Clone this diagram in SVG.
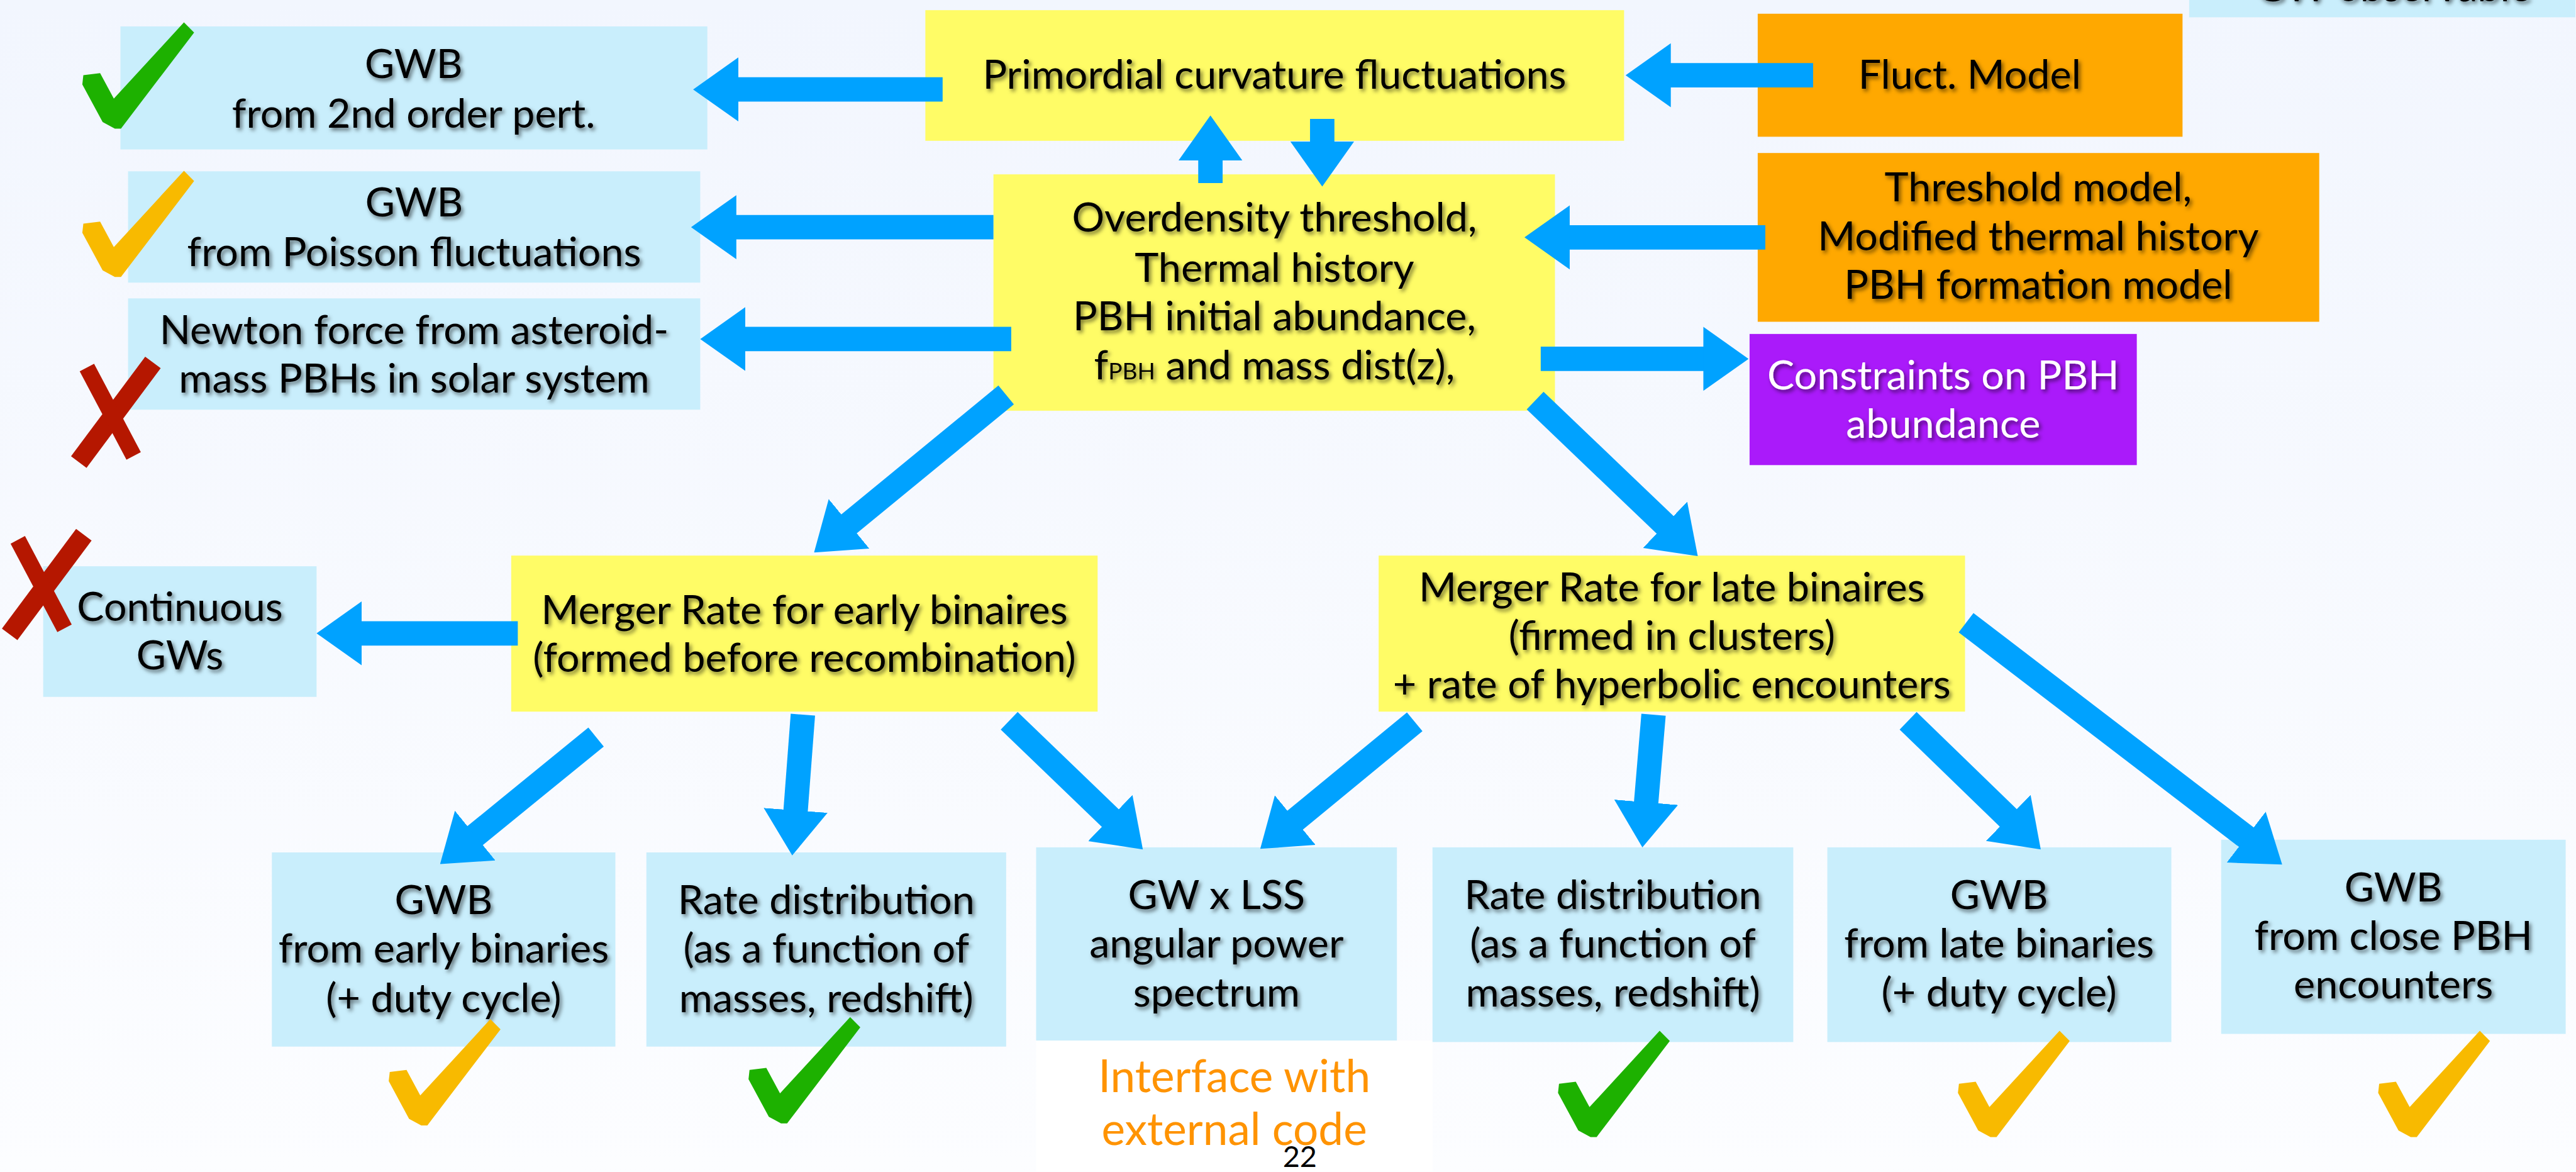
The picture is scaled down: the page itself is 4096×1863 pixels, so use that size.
<svg xmlns="http://www.w3.org/2000/svg" width="4096" height="1863" viewBox="0 0 4096 1863">
<defs>
<linearGradient id="bg" x1="0" y1="0" x2="0" y2="1">
<stop offset="0" stop-color="#f2f6fe"/>
<stop offset="1" stop-color="#fcfdff"/>
</linearGradient>
<filter id="sh" x="-10%" y="-30%" width="120%" height="170%">
<feDropShadow dx="4" dy="5" stdDeviation="4" flood-color="#000" flood-opacity="0.55"/>
</filter>
<marker id="ah" markerUnits="userSpaceOnUse" markerWidth="89" markerHeight="128" viewBox="0 -64 89 128" refX="44" refY="0" orient="auto">
<path d="M0,-63 L89,0 L0,63 Z" fill="#00a2ff"/>
</marker>
<path id="check" d="M4,104 L37,100 L64,150 L202,0 L222,20 L78,209 L66,209 L42,196 L2,122 Z"/>
<g id="cross">
<line x1="160" y1="8" x2="14" y2="204" stroke-width="38"/>
<line x1="30" y1="18" x2="122" y2="192" stroke-width="32"/>
</g>
<style>
.lb{fill:#c9eefc}
.yl{fill:#fffc66}
.or{fill:#ffa800}
.pu{fill:#aa1afa}
.t{font-family:Lato,"Liberation Sans",sans-serif;font-size:80px;text-anchor:middle;fill:#000;filter:url(#sh)}
.w{fill:#fff}
.arr{stroke:#00a2ff;stroke-width:48;fill:none;marker-end:url(#ah)}
.gr{fill:#1db100}
.ye{fill:#f8ba00}
.rd{stroke:#b51700;fill:none}
.ora{font-family:Lato,"Liberation Sans",sans-serif;font-size:88px;text-anchor:middle;fill:#ff9300}
</style>
</defs>
<rect x="0" y="0" width="4096" height="1863" fill="url(#bg)"/>
<g transform="scale(0.808)">
<rect x="2039" y="2047" width="780" height="258" fill="#ffffff"/>

<g id="gw-observable">
<rect class="lb" x="4308" y="0" width="760" height="34"/>
<text class="t" x="4710" y="2">GW observable</text>
</g>

<g id="gwb-2nd-order">
<rect class="lb" x="237" y="52" width="1155" height="242"/>
<text class="t" x="814" y="154">GWB</text>
<text class="t" x="814" y="251">from 2nd order pert.</text>
</g>
<g id="gwb-poisson">
<rect class="lb" x="252" y="337" width="1126" height="219"/>
<text class="t" x="815" y="426">GWB</text>
<text class="t" x="815" y="523">from Poisson fluctuations</text>
</g>
<g id="newton-force">
<rect class="lb" x="252" y="587" width="1126" height="219"/>
<text class="t" x="815" y="677">Newton force from asteroid-</text>
<text class="t" x="815" y="772">mass PBHs in solar system</text>
</g>
<g id="primordial">
<rect class="yl" x="1821" y="20" width="1375" height="257"/>
<text class="t" x="2508" y="175">Primordial curvature fluctuations</text>
</g>
<g id="overdensity">
<rect class="yl" x="1955" y="343" width="1105" height="465"/>
<text class="t" x="2508" y="456">Overdensity threshold,</text>
<text class="t" x="2508" y="554">Thermal history</text>
<text class="t" x="2508" y="650">PBH initial abundance,</text>
<text class="t" x="2508" y="746">f<tspan font-size="46">PBH</tspan> and mass dist(z),</text>
</g>
<g id="fluct-model">
<rect class="or" x="3459" y="27" width="836" height="242"/>
<text class="t" x="3876" y="175">Fluct. Model</text>
</g>
<g id="threshold-model">
<rect class="or" x="3459" y="301" width="1105" height="332"/>
<text class="t" x="4011" y="396">Threshold model,</text>
<text class="t" x="4011" y="492">Modified thermal history</text>
<text class="t" x="4011" y="588">PBH formation model</text>
</g>
<g id="constraints">
<rect class="pu" x="3443" y="657" width="762" height="258"/>
<text class="t w" x="3824" y="766">Constraints on PBH</text>
<text class="t w" x="3824" y="861">abundance</text>
</g>
<g id="continuous">
<rect class="lb" x="85" y="1114" width="538" height="257"/>
<text class="t" x="354" y="1222">Continuous</text>
<text class="t" x="354" y="1317">GWs</text>
</g>
<g id="early-merger">
<rect class="yl" x="1006" y="1093" width="1154" height="307"/>
<text class="t" x="1583" y="1228">Merger Rate for early binaires</text>
<text class="t" x="1583" y="1322">(formed before recombination)</text>
</g>
<g id="late-merger">
<rect class="yl" x="2713" y="1093" width="1154" height="307"/>
<text class="t" x="3290" y="1183">Merger Rate for late binaires</text>
<text class="t" x="3290" y="1279">(firmed in clusters)</text>
<text class="t" x="3290" y="1374">+ rate of hyperbolic encounters</text>
</g>
<g id="gwb-early">
<rect class="lb" x="535" y="1677" width="676" height="382"/>
<text class="t" x="873" y="1798">GWB</text>
<text class="t" x="873" y="1894">from early binaries</text>
<text class="t" x="873" y="1991">(+ duty cycle)</text>
</g>
<g id="rate-early">
<rect class="lb" x="1272" y="1677" width="708" height="382"/>
<text class="t" x="1626" y="1798">Rate distribution</text>
<text class="t" x="1626" y="1894">(as a function of</text>
<text class="t" x="1626" y="1991">masses, redshift)</text>
</g>
<g id="gw-lss">
<rect class="lb" x="2039" y="1667" width="710" height="380"/>
<text class="t" x="2394" y="1788">GW x LSS</text>
<text class="t" x="2394" y="1884">angular power</text>
<text class="t" x="2394" y="1980">spectrum</text>
</g>
<g id="rate-late">
<rect class="lb" x="2819" y="1667" width="710" height="383"/>
<text class="t" x="3174" y="1788">Rate distribution</text>
<text class="t" x="3174" y="1884">(as a function of</text>
<text class="t" x="3174" y="1980">masses, redshift)</text>
</g>
<g id="gwb-late">
<rect class="lb" x="3596" y="1667" width="677" height="383"/>
<text class="t" x="3934" y="1788">GWB</text>
<text class="t" x="3934" y="1884">from late binaries</text>
<text class="t" x="3934" y="1980">(+ duty cycle)</text>
</g>
<g id="gwb-close">
<rect class="lb" x="4371" y="1652" width="678" height="382"/>
<text class="t" x="4710" y="1773">GWB</text>
<text class="t" x="4710" y="1869">from close PBH</text>
<text class="t" x="4710" y="1964">encounters</text>
</g>
<g id="interface-note">
<text class="ora" x="2429" y="2148">Interface with</text>
<text class="ora" x="2429" y="2252">external code</text>
</g>
<g id="page-number">
<text x="2558" y="2296" font-family="Lato,'Liberation Sans',sans-serif" font-size="58" text-anchor="middle" fill="#000">22</text>
</g>

<g id="connectors">
<line class="arr" x1="1855" y1="176" x2="1409" y2="176"/>
<line class="arr" x1="1955" y1="447" x2="1405" y2="447"/>
<line class="arr" x1="1990" y1="667" x2="1423" y2="667"/>
<line class="arr" x1="3568" y1="148" x2="3244" y2="148"/>
<line class="arr" x1="3474" y1="467" x2="3045" y2="467"/>
<line class="arr" x1="3032" y1="706" x2="3396" y2="706"/>
<line class="arr" x1="2382" y1="360" x2="2382" y2="272"/>
<line class="arr" x1="2602" y1="234" x2="2602" y2="322"/>
<line class="arr" x1="1980" y1="777" x2="1636.8" y2="1058.5"/>
<line class="arr" x1="3021" y1="788" x2="3308.5" y2="1062.9"/>
<line class="arr" x1="1019" y1="1246" x2="668" y2="1246"/>
<line class="arr" x1="1173" y1="1450" x2="900.9" y2="1671.6"/>
<line class="arr" x1="1580" y1="1406" x2="1562.4" y2="1638.1"/>
<line class="arr" x1="1986" y1="1418" x2="2216.6" y2="1639.8"/>
<line class="arr" x1="2784" y1="1420" x2="2514.8" y2="1641.4"/>
<line class="arr" x1="3254" y1="1406" x2="3235.8" y2="1622.2"/>
<line class="arr" x1="3755" y1="1418" x2="3983.7" y2="1639.7"/>
<line class="arr" x1="3869" y1="1225" x2="4455.3" y2="1673.6"/>
</g>

<g id="marks">
<use href="#check" class="gr" x="160" y="44"/>
<use href="#check" class="ye" x="160" y="336"/>
<use href="#cross" class="rd" x="141" y="705"/>
<use href="#cross" class="rd" x="5" y="1044"/>
<use href="#check" class="ye" x="763" y="2005"/>
<use href="#check" class="gr" x="1471" y="2001"/>
<use href="#check" class="gr" x="3064" y="2028"/>
<use href="#check" class="ye" x="3851" y="2028"/>
<use href="#check" class="ye" x="4678" y="2028"/>
</g>
</g>
</svg>
